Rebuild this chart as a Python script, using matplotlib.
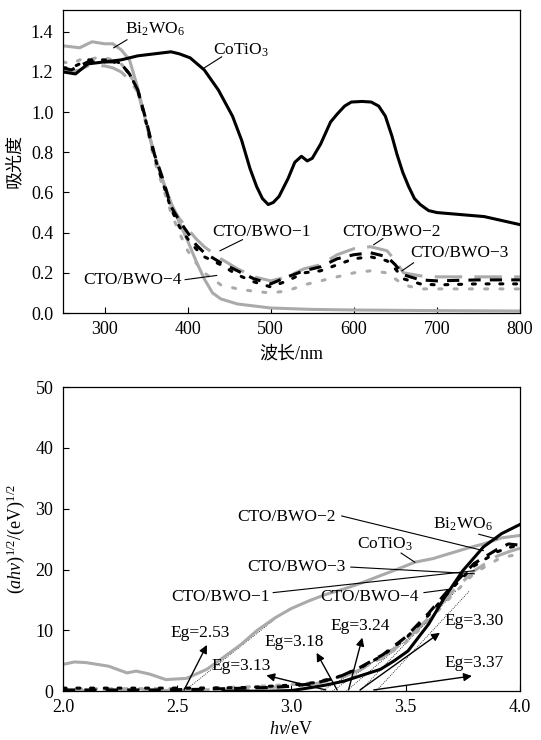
"""UV-Vis absorbance and Tauc plot for CoTiO3 / Bi2WO6 composites."""

import matplotlib
matplotlib.use("Agg")
import matplotlib.pyplot as plt

plt.rcParams["font.family"] = ["Liberation Serif", "Noto Sans CJK SC"]
plt.rcParams["mathtext.fontset"] = "custom"
plt.rcParams["mathtext.rm"] = "Liberation Serif"
plt.rcParams["mathtext.it"] = "Liberation Serif:italic"
plt.rcParams["font.size"] = 12

# ---- top panel: absorbance vs wavelength ----
wl_cto = [250, 265, 280, 300, 320, 340, 360, 380, 390, 403, 420, 437, 454, 465,
          475, 483, 490, 497, 503, 510, 521, 529, 537, 544, 550, 560, 572, 580,
          589, 597, 610, 621, 630, 638, 646, 652, 659, 666, 673, 680, 690, 700,
          757, 800]
abs_cto = [1.20, 1.19, 1.24, 1.25, 1.26, 1.28, 1.29, 1.30, 1.29, 1.27, 1.21, 1.11,
           0.98, 0.86, 0.72, 0.63, 0.57, 0.54, 0.55, 0.58, 0.67, 0.75, 0.78, 0.757,
           0.77, 0.84, 0.95, 0.99, 1.03, 1.05, 1.053, 1.05, 1.03, 0.98, 0.88, 0.79,
           0.70, 0.63, 0.57, 0.54, 0.51, 0.50, 0.48, 0.44]

wl_bwo = [250, 270, 285, 300, 310, 320, 330, 340, 350, 360, 370, 380, 390, 400,
          410, 420, 430, 440, 460, 480, 500, 550, 600, 700, 800]
abs_bwo = [1.33, 1.32, 1.35, 1.34, 1.34, 1.31, 1.26, 1.12, 0.95, 0.79, 0.66, 0.55,
           0.45, 0.36, 0.26, 0.17, 0.10, 0.07, 0.045, 0.035, 0.025, 0.018, 0.015,
           0.012, 0.01]

wl_mix = [250, 260, 270, 280, 290, 300, 310, 320, 330, 340, 350, 360, 370, 380,
          390, 400, 410, 420, 440, 460, 480, 500, 520, 540, 560, 580, 600, 620,
          640, 650, 660, 680, 700, 750, 800]
abs_m1 = [1.21, 1.20, 1.21, 1.23, 1.23, 1.23, 1.22, 1.20, 1.16, 1.10, 0.95, 0.78,
          0.66, 0.54, 0.47, 0.42, 0.37, 0.33, 0.27, 0.22, 0.18, 0.16, 0.18, 0.22,
          0.24, 0.29, 0.32, 0.33, 0.31, 0.26, 0.20, 0.185, 0.18, 0.18, 0.18]
abs_m2 = [1.22, 1.21, 1.23, 1.25, 1.25, 1.25, 1.25, 1.24, 1.19, 1.11, 0.96, 0.79,
          0.67, 0.53, 0.46, 0.40, 0.34, 0.30, 0.25, 0.21, 0.17, 0.145, 0.18, 0.21,
          0.23, 0.27, 0.29, 0.30, 0.28, 0.24, 0.19, 0.165, 0.16, 0.165, 0.165]
abs_m3 = [1.22, 1.22, 1.24, 1.26, 1.26, 1.26, 1.26, 1.24, 1.19, 1.11, 0.95, 0.78,
          0.65, 0.52, 0.43, 0.37, 0.32, 0.28, 0.24, 0.19, 0.155, 0.13, 0.16, 0.20,
          0.21, 0.24, 0.27, 0.28, 0.26, 0.22, 0.17, 0.145, 0.14, 0.145, 0.145]
abs_m4 = [1.25, 1.24, 1.26, 1.26, 1.27, 1.27, 1.26, 1.24, 1.19, 1.11, 0.94, 0.76,
          0.63, 0.50, 0.40, 0.31, 0.25, 0.20, 0.14, 0.12, 0.108, 0.10, 0.11, 0.14,
          0.16, 0.18, 0.20, 0.21, 0.20, 0.17, 0.14, 0.12, 0.12, 0.12, 0.12]

# ---- bottom panel: Tauc plot ----
ev_cto = [2.0, 2.05, 2.1, 2.2, 2.28, 2.32, 2.38, 2.45, 2.54, 2.63, 2.7, 2.78,
          2.85, 2.93, 3.0, 3.08, 3.15, 3.23, 3.3, 3.39, 3.46, 3.54, 3.62, 3.69,
          3.77, 3.84, 3.92, 4.0]
tauc_cto = [4.4, 4.8, 4.7, 4.1, 3.0, 3.3, 2.8, 1.9, 2.1, 3.6, 5.5, 7.7, 10.0, 12.1,
            13.6, 14.9, 15.9, 16.8, 17.7, 19.0, 20.0, 21.2, 21.8, 22.6, 23.5, 24.2,
            25.2, 25.6]

ev_bwo = [2.7, 2.9, 3.0, 3.08, 3.15, 3.23, 3.3, 3.39, 3.45, 3.51, 3.6, 3.67, 3.75,
          3.84, 3.92, 4.0]
tauc_bwo = [0.0, 0.0, 0.1, 0.55, 1.0, 1.65, 2.5, 3.6, 5.0, 6.6, 11.0, 15.4, 19.8,
            23.7, 25.9, 27.4]

ev_mix = [2.0, 2.2, 2.4, 2.6, 2.8, 2.9, 3.0, 3.1, 3.2, 3.3, 3.4, 3.5, 3.6, 3.7,
          3.8, 3.9, 3.95, 4.0]
tauc_m1 = [0.1, 0.1, 0.1, 0.2, 0.4, 0.6, 0.8, 1.2, 2.0, 3.5, 5.6, 8.3, 12.0, 16.2,
           19.8, 22.2, 22.9, 23.5]
tauc_m2 = [0.2, 0.2, 0.2, 0.3, 0.5, 0.6, 0.8, 1.3, 2.2, 3.9, 6.0, 8.9, 12.8, 17.2,
           21.0, 23.3, 24.2, 24.0]
tauc_m3 = [0.5, 0.5, 0.5, 0.5, 0.6, 0.8, 1.0, 1.4, 2.3, 3.8, 5.9, 8.7, 12.5, 16.8,
           20.6, 22.9, 23.6, 24.0]
tauc_m4 = [0.4, 0.4, 0.4, 0.5, 0.7, 0.9, 1.1, 1.4, 2.2, 3.6, 5.5, 8.0, 11.5, 15.6,
           19.4, 21.6, 22.2, 22.5]

eg_values = [2.53, 3.13, 3.18, 3.24, 3.30, 3.37]
tangent_end_x = [2.95, 3.45, 3.55, 3.60, 3.72, 3.78]
tangent_end_y = [12.5, 6.8, 10.0, 11.5, 16.5, 16.5]
eg_arrow_tail_x = [2.53, 3.15, 3.20, 3.25, 3.30, 3.36]
eg_arrow_head = [(2.63, 7.6), (2.89, 2.6), (3.11, 6.3), (3.31, 8.8), (3.65, 9.6),
                 (3.79, 2.5)]
eg_label_pos = [(2.60, 9.6), (2.78, 4.1), (3.01, 8.0), (3.30, 10.7), (3.80, 11.6),
                (3.80, 4.7)]

GRAY = "#aaaaaa"
styles = {
    "m1": dict(color=GRAY, lw=2.2, dashes=(9, 4)),
    "m2": dict(color="black", lw=2.2, dashes=(4, 3)),
    "m3": dict(color="black", lw=2.2, dashes=(1, 3.5), dash_capstyle="round"),
    "m4": dict(color=GRAY, lw=2.2, dashes=(1, 4), dash_capstyle="round"),
}

fig = plt.figure(figsize=(5.41, 7.40), dpi=100)
ax1 = fig.add_axes([0.1165, 0.577, 0.8445, 0.41])
ax2 = fig.add_axes([0.1165, 0.066, 0.8445, 0.411])

# top panel
ax1.plot(wl_bwo, abs_bwo, color=GRAY, lw=2.2)
ax1.plot(wl_mix, abs_m4, **styles["m4"])
ax1.plot(wl_mix, abs_m1, **styles["m1"])
ax1.plot(wl_mix, abs_m3, **styles["m3"])
ax1.plot(wl_mix, abs_m2, **styles["m2"])
ax1.plot(wl_cto, abs_cto, color="black", lw=2.2)

ax1.set_xlim(250, 800)
ax1.set_ylim(0, 1.51)
ax1.set_xticks([300, 400, 500, 600, 700, 800])
ax1.set_yticks([0.0, 0.2, 0.4, 0.6, 0.8, 1.0, 1.2, 1.4])
ax1.yaxis.set_major_formatter(matplotlib.ticker.FormatStrFormatter("%.1f"))
ax1.set_xlabel("波长/nm", fontsize=13, labelpad=5)
ax1.set_ylabel("吸光度", fontsize=13, labelpad=6)

top_labels = [
    ("Bi$_2$WO$_6$", (361, 1.41), (327, 1.36), (311, 1.32)),
    ("CoTiO$_3$", (464, 1.31), (441, 1.275), (420, 1.22)),
    ("CTO/BWO−1", (489, 0.405), (466, 0.365), (439, 0.31)),
    ("CTO/BWO−4", (334, 0.166), (397, 0.166), (435, 0.187)),
    ("CTO/BWO−2", (645, 0.405), (635, 0.37), (624, 0.34)),
    ("CTO/BWO−3", (727, 0.30), (672, 0.25), (658, 0.21)),
]
for txt, pos, p0, p1 in top_labels:
    ax1.text(*pos, txt, ha="center", va="center", fontsize=12.5)
    ax1.plot([p0[0], p1[0]], [p0[1], p1[1]], color="black", lw=0.8)

# bottom panel
for x0, x1, y1 in zip(eg_values, tangent_end_x, tangent_end_y):
    ax2.plot([x0, x1], [0, y1], color="black", lw=0.6, ls=(0, (1, 1.5)))
ax2.plot(ev_cto, tauc_cto, color=GRAY, lw=2.2)
ax2.plot(ev_mix, tauc_m4, **styles["m4"])
ax2.plot(ev_mix, tauc_m1, **styles["m1"])
ax2.plot(ev_mix, tauc_m2, **styles["m2"])
ax2.plot(ev_mix, tauc_m3, **styles["m3"])
ax2.plot(ev_bwo, tauc_bwo, color="black", lw=2.2)

for eg, tail, head, lpos in zip(eg_values, eg_arrow_tail_x, eg_arrow_head, eg_label_pos):
    ax2.annotate("", xy=head, xytext=(tail, 0.2),
                 arrowprops=dict(arrowstyle="-|>", color="black", lw=1.0,
                                 mutation_scale=12, shrinkA=0, shrinkB=0))
    ax2.text(*lpos, f"Eg={eg:.2f}", ha="center", va="center", fontsize=12.5)

bottom_labels = [
    ("CTO/BWO−2", (2.98, 28.6), (3.22, 28.8), (3.84, 23.1)),
    ("Bi$_2$WO$_6$", (3.75, 27.4), (3.82, 25.8), (3.90, 25.0)),
    ("CoTiO$_3$", (3.41, 24.2), (3.48, 22.7), (3.54, 21.2)),
    ("CTO/BWO−3", (3.02, 20.4), (3.26, 20.4), (3.80, 19.3)),
    ("CTO/BWO−1", (2.69, 15.4), (2.92, 16.2), (3.80, 19.8)),
    ("CTO/BWO−4", (3.34, 15.4), (3.58, 16.2), (3.70, 16.8)),
]
for txt, pos, p0, p1 in bottom_labels:
    ax2.text(*pos, txt, ha="center", va="center", fontsize=12.5)
    ax2.plot([p0[0], p1[0]], [p0[1], p1[1]], color="black", lw=0.8)

ax2.set_xlim(2.0, 4.0)
ax2.set_ylim(0, 50)
ax2.set_xticks([2.0, 2.5, 3.0, 3.5, 4.0])
ax2.set_yticks([0, 10, 20, 30, 40, 50])
ax2.set_xlabel("$\\mathit{hv}$/eV", fontsize=13, labelpad=3)
ax2.set_ylabel("($\\mathit{ahv}$)$^{1/2}$/(eV)$^{1/2}$", fontsize=13, labelpad=6)

for ax in (ax1, ax2):
    ax.tick_params(direction="in", length=4, width=0.8, labelsize=13)
    ax.tick_params(axis="y", pad=7)
    ax.tick_params(axis="x", pad=6)
    for sp in ax.spines.values():
        sp.set_linewidth(0.9)

fig.savefig("out.png", dpi=100)
plt.close(fig)
